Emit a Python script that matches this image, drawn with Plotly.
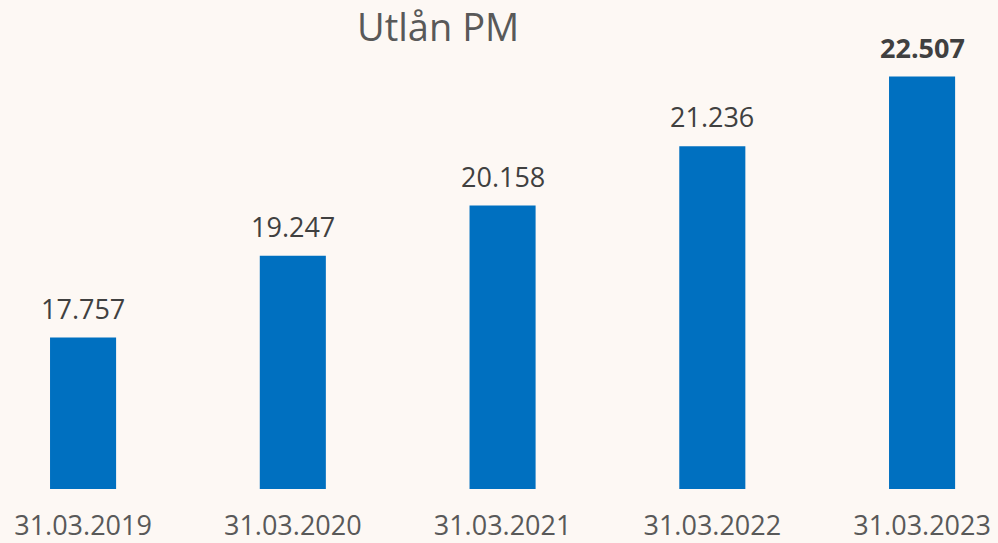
import plotly.graph_objects as go

categories = ["31.03.2019", "31.03.2020", "31.03.2021", "31.03.2022", "31.03.2023"]
values = [17.757, 19.247, 20.158, 21.236, 22.507]
labels = ["17.757", "19.247", "20.158", "21.236", "<b>22.507</b>"]
title = "Utlån PM"

BG = "#FDF8F4"
FONT = "Open Sans"

fig = go.Figure()
fig.add_trace(go.Bar(
    x=categories, y=values, width=0.315,
    marker=dict(color="#0070C0", line=dict(width=0)),
    hoverinfo="skip",
))

for c, v, t in zip(categories, values, labels):
    fig.add_annotation(x=c, y=v, text=t, showarrow=False, yanchor="bottom",
                       yshift=9, font=dict(family=FONT, size=27, color="#404040"))

fig.add_annotation(x=438/998, y=1, xref="paper", yref="paper", text=title,
                   showarrow=False, xanchor="center", yanchor="middle", yshift=-26,
                   font=dict(family=FONT, size=38, color="#595959"))

fig.update_layout(
    width=998, height=543,
    margin=dict(l=0, r=0, t=0, b=54),
    paper_bgcolor=BG, plot_bgcolor=BG,
    showlegend=False,
    xaxis=dict(type="category", range=[-0.396, 4.362], showgrid=False, zeroline=False,
               showline=False, ticks="", ticklabelstandoff=18,
               tickfont=dict(family=FONT, size=27, color="#595959")),
    yaxis=dict(range=[15.0, 23.9], visible=False, showgrid=False, zeroline=False),
)

fig.write_html("out.html",
               config={"displayModeBar": False},
               post_script="document.body.style.margin='0';document.body.style.overflow='hidden';document.body.style.background='" + BG + "';")
